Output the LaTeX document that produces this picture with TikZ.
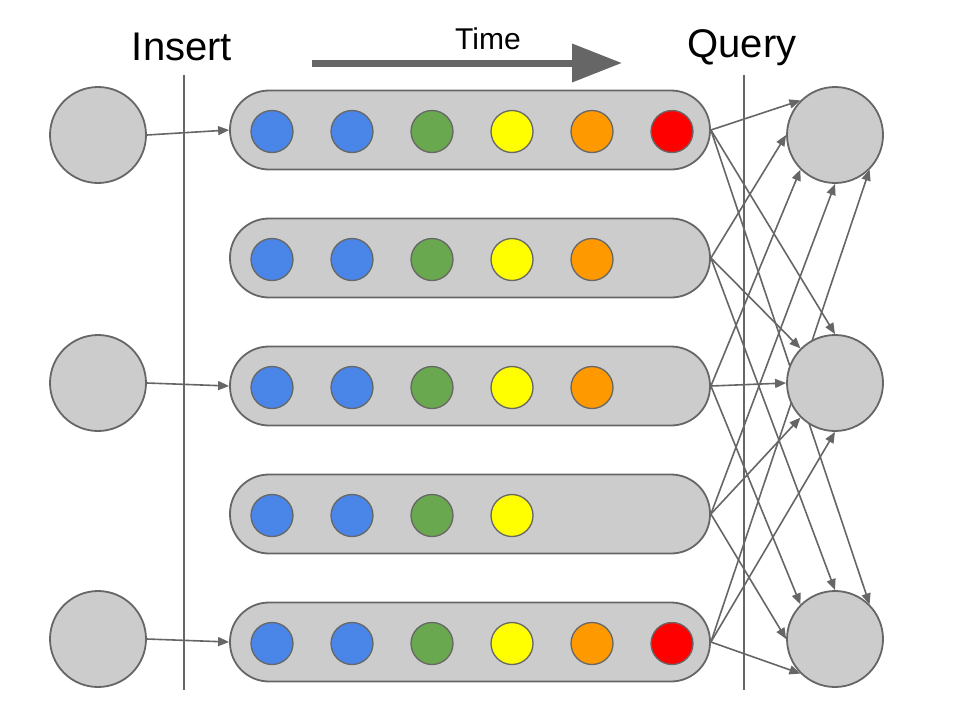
\documentclass[tikz,border=0pt]{standalone}
\usepackage{fontspec}
\setmainfont{Liberation Sans}
\usetikzlibrary{arrows.meta}
\definecolor{lg}{HTML}{CCCCCC}
\definecolor{dg}{HTML}{666666}
\definecolor{cblue}{HTML}{4A86E8}
\definecolor{cgreen}{HTML}{6AA84F}
\definecolor{cyellow}{HTML}{FFFF00}
\definecolor{corange}{HTML}{FF9900}
\definecolor{cred}{HTML}{FF0000}
\begin{document}
\begin{tikzpicture}[x=1pt,y=-1pt,
  bignode/.style={circle,draw=dg,fill=lg,line width=1.8pt,minimum size=96pt,inner sep=0pt},
  bar/.style={rectangle,draw=dg,fill=lg,line width=1.8pt,rounded corners=39pt,minimum width=480pt,minimum height=79pt,inner sep=0pt},
  dot/.style={circle,draw=dg,line width=1.3pt,minimum size=42pt,inner sep=0pt},
  conn/.style={draw=dg,line width=1.6pt,-{Triangle[length=11pt,width=9pt]}},
  sep/.style={draw=dg,line width=1.6pt},
  lbl/.style={inner sep=0pt,text=black}]
\useasboundingbox (0,0) rectangle (960,720);
% separators
\coordinate (s1a) at (184,75); \coordinate (s1b) at (184,690);
\coordinate (s2a) at (744,75); \coordinate (s2b) at (744,690);
\draw[sep] (s1a) -- (s1b);
\draw[sep] (s2a) -- (s2b);
% labels
\node[lbl,font=\fontsize{40}{46}\selectfont] (ins) at (182,47) {Insert};
\node[lbl,font=\fontsize{30}{35}\selectfont] (time) at (488,39) {Time};
\node[lbl,font=\fontsize{40}{46}\selectfont] (qry) at (742,48) {Query};
% time arrow
\coordinate (ta) at (312,63);
\coordinate (tb) at (622,63);
\draw[dg,line width=7pt,-{Triangle[length=50pt,width=37pt]}] (ta) -- (tb);
% bars
\foreach \i/\y in {1/130,2/258,3/386,4/514,5/642}{
  \node[bar] (b\i) at (470,\y) {};
}
% dots
\foreach \i/\n in {1/6,2/5,3/5,4/4,5/6}{
  \foreach \c [count=\k] in {cblue,cblue,cgreen,cyellow,corange,cred}{
    \ifnum\k>\n\else
      \node[dot,fill=\c] (d\i\k) at ({272+80*(\k-1)},{131.5+128*(\i-1)}) {};
    \fi
  }
}
% right circles positions (draw lines first, then circles)
\coordinate (q1c) at (835,135);
\coordinate (q2c) at (835,383);
\coordinate (q3c) at (835,639);
\path (q1c) node[bignode,draw=none,fill=none] (q1) {};
\path (q2c) node[bignode,draw=none,fill=none] (q2) {};
\path (q3c) node[bignode,draw=none,fill=none] (q3) {};
% connectors to query circles
\draw[conn] (b1.east) -- (q1.north west);
\draw[conn] (b2.east) -- (q1.west);
\draw[conn] (b3.east) -- (q1.south west);
\draw[conn] (b4.east) -- (q1.south);
\draw[conn] (b5.east) -- (q1.south east);
\draw[conn] (b1.east) -- (q2.north);
\draw[conn] (b2.east) -- (q2.north west);
\draw[conn] (b3.east) -- (q2.west);
\draw[conn] (b4.east) -- (q2.south west);
\draw[conn] (b5.east) -- (q2.south);
\draw[conn] (b1.east) -- (q3.north east);
\draw[conn] (b2.east) -- (q3.north);
\draw[conn] (b3.east) -- (q3.north west);
\draw[conn] (b4.east) -- (q3.west);
\draw[conn] (b5.east) -- (q3.south west);
% draw query circles on top
\node[bignode] (Q1) at (q1c) {};
\node[bignode] (Q2) at (q2c) {};
\node[bignode] (Q3) at (q3c) {};
% insert circles
\node[bignode] (i1) at (98,135) {};
\node[bignode] (i2) at (98,383) {};
\node[bignode] (i3) at (98,639) {};
\draw[conn] (i1.east) -- (b1.west);
\draw[conn] (i2.east) -- (b3.west);
\draw[conn] (i3.east) -- (b5.west);
\end{tikzpicture}
\end{document}
